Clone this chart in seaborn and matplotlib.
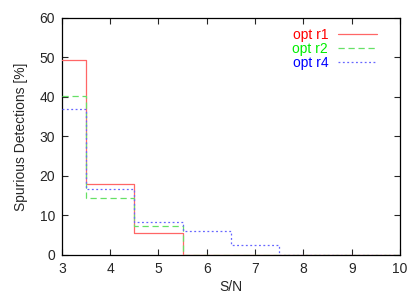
import numpy as np
import pandas as pd
import seaborn as sns
from matplotlib import pyplot as plt

sns.set_theme(style="white")
plt.rcParams['font.family'] = ['Liberation Sans', 'DejaVu Sans']

# bin edges (S/N) and fraction of spurious detections [%]
edges = [3, 3.5, 4.5, 5.5, 6.5, 7.5, 10]
opt_r1 = [49.3, 18.0, 5.5, 0.0, 0.0, 0.0]
opt_r2 = [40.3, 14.5, 7.3, 0.0, 0.0, 0.0]
opt_r4 = [37.0, 16.8, 8.4, 6.0, 2.6, 0.0]

series = [("opt r1", opt_r1, "#ff6666", "red", "-"),
          ("opt r2", opt_r2, "#66e066", "#00ee00", (0, (5, 3))),
          ("opt r4", opt_r4, "#6666ff", "blue", (0, (1.5, 2)))]

fig = plt.figure(figsize=(4.07, 2.94), dpi=100)
ax = fig.add_axes([0.152, 0.133, 0.831, 0.806])

for name, vals, col, tcol, ls in series:
    df = pd.DataFrame({"S/N": edges, "val": vals + [vals[-1]]})
    sns.lineplot(data=df, x="S/N", y="val", drawstyle="steps-post",
                 color=col, linestyle=ls, linewidth=0.9, label=name,
                 zorder=3, ax=ax)

ax.set_xlim(3, 10)
ax.set_ylim(0, 60)
ax.set_xticks(range(3, 11))
ax.set_yticks(range(0, 61, 10))
ax.set_xlabel("S/N", fontsize=10, labelpad=3)
ax.set_ylabel("Spurious Detections [%]", fontsize=10, labelpad=8)
ax.tick_params(direction="in", length=4, width=0.8, labelsize=10,
               top=True, right=True, bottom=True, left=True, pad=5)
for sp in ax.spines.values():
    sp.set_color("black")
    sp.set_linewidth(0.9)

leg = ax.legend(loc="upper right", frameon=False, markerfirst=False,
                fontsize=10, handlelength=2.8, labelspacing=0.0,
                borderaxespad=0.3, handletextpad=0.7,
                bbox_to_anchor=(0.96, 1.0))
for txt, s in zip(leg.get_texts(), series):
    txt.set_color(s[3])

fig.savefig("out.png", dpi=100)
